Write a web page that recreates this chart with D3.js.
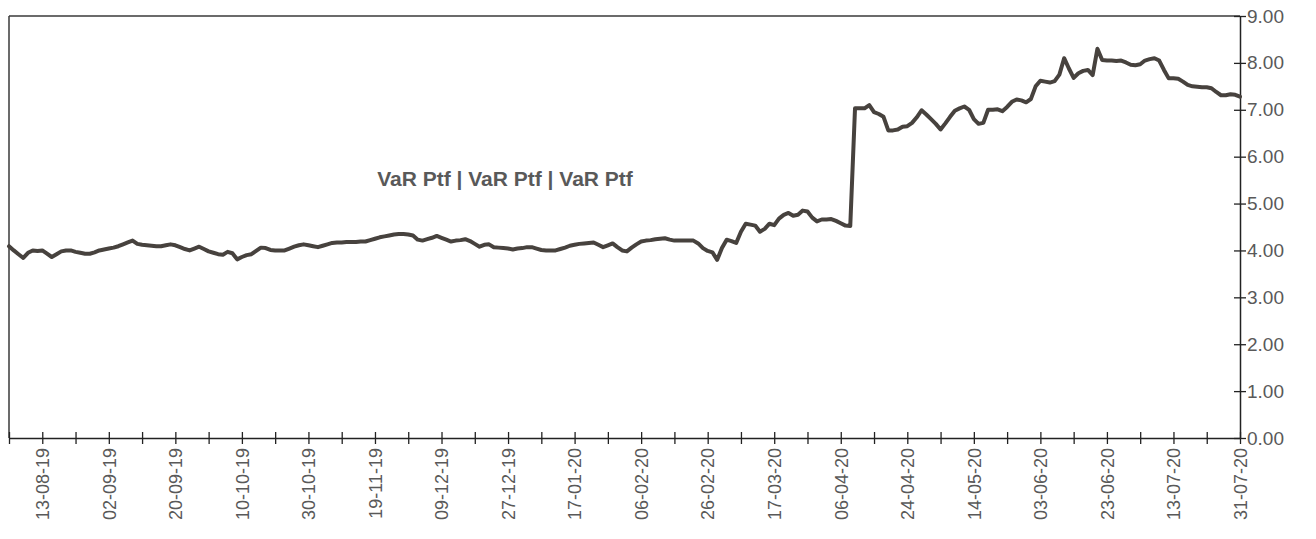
<!DOCTYPE html>
<html>
<head>
<meta charset="utf-8">
<script src="https://cdn.jsdelivr.net/npm/d3@7"></script>
<style>
  html, body { margin: 0; padding: 0; background: #fff; }
  svg { display: block; }
  text { font-family: "Liberation Sans", Arial, sans-serif; }
</style>
</head>
<body>
<svg id="chart" width="1316" height="539"></svg>
<script>
// ---- data ----
const title = "VaR Ptf | VaR Ptf | VaR Ptf";
const tickLabels = ["13-08-19","02-09-19","20-09-19","10-10-19","30-10-19","19-11-19","09-12-19","27-12-19","17-01-20","06-02-20","26-02-20","17-03-20","06-04-20","24-04-20","14-05-20","03-06-20","23-06-20","13-07-20","31-07-20"];
const yTicks = [0,1,2,3,4,5,6,7,8,9];
const varValues = [
  4.09,4.00,3.92,3.84,3.95,4.00,3.99,4.00,3.93,3.86,
  3.92,3.98,4.00,4.00,3.97,3.95,3.93,3.93,3.96,4.00,
  4.02,4.04,4.06,4.09,4.13,4.17,4.21,4.14,4.12,4.11,
  4.10,4.09,4.09,4.11,4.13,4.11,4.07,4.03,4.00,4.04,
  4.08,4.03,3.98,3.95,3.92,3.91,3.97,3.94,3.81,3.86,
  3.90,3.92,3.99,4.06,4.05,4.01,4.00,4.00,4.00,4.04,
  4.08,4.11,4.13,4.11,4.09,4.07,4.10,4.13,4.16,4.17,
  4.17,4.18,4.18,4.18,4.19,4.19,4.22,4.25,4.28,4.30,
  4.32,4.34,4.35,4.35,4.34,4.32,4.23,4.21,4.24,4.27,
  4.31,4.27,4.23,4.19,4.21,4.22,4.24,4.20,4.14,4.08,
  4.12,4.13,4.07,4.06,4.05,4.04,4.02,4.04,4.05,4.07,
  4.07,4.04,4.01,4.00,4.00,4.00,4.03,4.06,4.10,4.12,
  4.14,4.15,4.16,4.17,4.12,4.07,4.11,4.15,4.07,4.00,
  3.98,4.06,4.13,4.19,4.21,4.22,4.24,4.25,4.26,4.23,
  4.21,4.21,4.21,4.21,4.21,4.15,4.05,3.99,3.96,3.80,
  4.05,4.23,4.20,4.16,4.40,4.57,4.55,4.53,4.40,4.46,
  4.57,4.54,4.68,4.76,4.80,4.74,4.76,4.85,4.83,4.70,
  4.62,4.66,4.66,4.67,4.63,4.58,4.53,4.52,7.03,7.03,
  7.03,7.10,6.95,6.91,6.85,6.56,6.56,6.58,6.64,6.65,
  6.72,6.84,6.99,6.90,6.80,6.70,6.58,6.71,6.85,6.98,
  7.03,7.07,7.00,6.80,6.70,6.72,7.00,7.00,7.01,6.97,
  7.06,7.17,7.22,7.20,7.16,7.23,7.50,7.62,7.60,7.58,
  7.61,7.75,8.10,7.88,7.68,7.78,7.83,7.85,7.74,8.30,
  8.06,8.05,8.05,8.04,8.05,8.01,7.96,7.95,7.97,8.05,
  8.08,8.10,8.05,7.85,7.67,7.67,7.66,7.60,7.53,7.50,
  7.49,7.48,7.48,7.46,7.38,7.31,7.31,7.33,7.32,7.28
];

// ---- layout ----
const svg = d3.select("#chart");
const padL = 9, padR = 1240, padT = 16, padB = 438;
const n = varValues.length;
const tickStep = 7;

const x = d3.scaleLinear().domain([0, n - 1]).range([padL, padR]);
const y = d3.scaleLinear().domain([0, 9]).range([padB, padT]);

const textColor = "#595959";

// frame: top and left borders
svg.append("line").attr("x1", padL).attr("x2", padR).attr("y1", padT).attr("y2", padT)
  .attr("stroke", "#3a3a3a").attr("stroke-width", 1.5);
svg.append("line").attr("x1", padL).attr("x2", padL).attr("y1", padT).attr("y2", padB)
  .attr("stroke", "#3a3a3a").attr("stroke-width", 1.5);

// x axis
const tickIdx = d3.range(0, n, tickStep);
const xAxis = d3.axisBottom(x).tickValues(tickIdx)
  .tickFormat((d, i) => (i % 2 === 1 ? tickLabels[(i - 1) / 2] : ""))
  .tickSizeOuter(0);
const gx = svg.append("g").attr("transform", `translate(0,${padB})`).call(xAxis);
gx.select(".domain").attr("stroke", "#222").attr("stroke-width", 1.5);
gx.selectAll(".tick line").attr("y1", -6).attr("y2", 6).attr("stroke", "#222").attr("stroke-width", 1.3);
gx.selectAll(".tick text")
  .attr("fill", textColor).attr("font-size", 18)
  .attr("text-anchor", "end")
  .attr("transform", "rotate(-90)")
  .attr("x", -10).attr("y", 0).attr("dy", "0.35em");

// y axis (right)
const yAxis = d3.axisRight(y).tickValues(yTicks).tickFormat(d3.format(".2f")).tickSizeOuter(0);
const gy = svg.append("g").attr("transform", `translate(${padR},0)`).call(yAxis);
gy.select(".domain").attr("stroke", "#222").attr("stroke-width", 1.5);
gy.selectAll(".tick line").attr("x1", -6).attr("x2", 6).attr("stroke", "#222").attr("stroke-width", 1.3);
gy.selectAll(".tick text").attr("fill", textColor).attr("font-size", 19).attr("x", 7);

// series line
const line = d3.line().x((d, i) => x(i)).y(d => y(d));
svg.append("path").datum(varValues)
  .attr("d", line)
  .attr("fill", "none")
  .attr("stroke", "#47423e")
  .attr("stroke-width", 4)
  .attr("stroke-linejoin", "round")
  .attr("stroke-linecap", "round");

// title
svg.append("text").attr("x", 505).attr("y", 186)
  .attr("text-anchor", "middle")
  .attr("font-size", 21).attr("font-weight", "bold")
  .attr("fill", textColor)
  .text(title);
</script>
</body>
</html>
